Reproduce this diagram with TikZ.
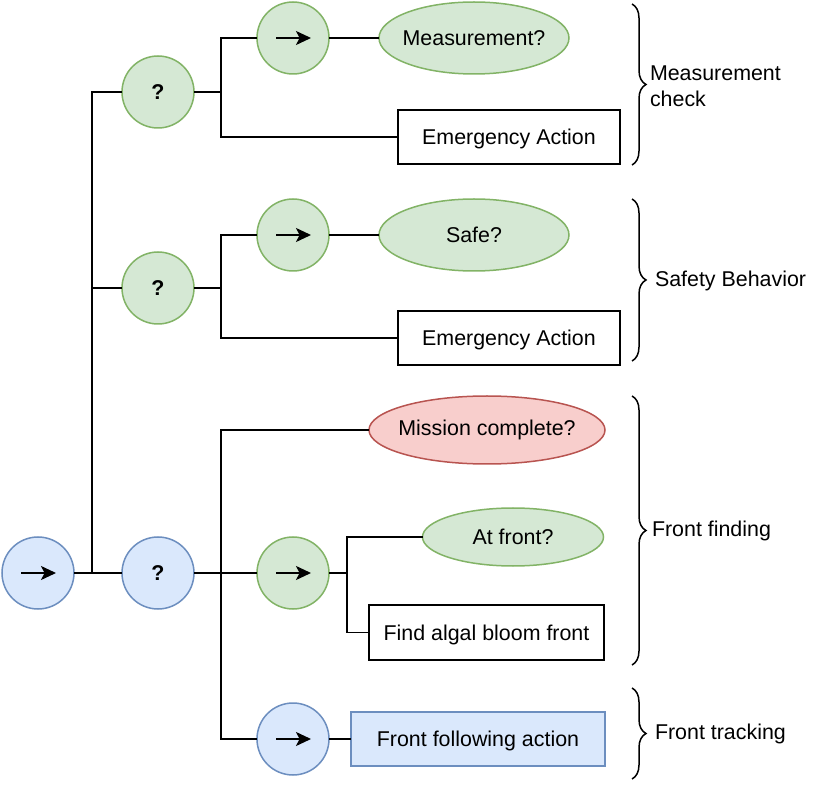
\documentclass[tikz,border=0pt]{standalone}
\usepackage{fontspec}
\setmainfont{Liberation Sans}
\usetikzlibrary{shapes.geometric,arrows.meta,decorations.pathreplacing}
\definecolor{gfill}{HTML}{D5E8D4}\definecolor{gdraw}{HTML}{82B366}
\definecolor{bfill}{HTML}{DAE8FC}\definecolor{bdraw}{HTML}{6C8EBF}
\definecolor{rfill}{HTML}{F8CECC}\definecolor{rdraw}{HTML}{B85450}
\begin{document}
\begin{tikzpicture}[x=0.5pt,y=-0.5pt,
  font=\fontsize{10.7}{13}\selectfont,
  every node/.style={inner sep=0pt,outer sep=0pt},
  circ/.style={circle,minimum size=36pt,line width=0.75pt},
  gcirc/.style={circ,fill=gfill,draw=gdraw},
  bcirc/.style={circ,fill=bfill,draw=bdraw},
  gell/.style={ellipse,fill=gfill,draw=gdraw,line width=0.75pt},
  rell/.style={ellipse,fill=rfill,draw=rdraw,line width=0.75pt},
  actbox/.style={rectangle,draw=black,line width=0.75pt,fill=white,text height=9.9pt,text depth=2.3pt},
  bactbox/.style={rectangle,draw=bdraw,fill=bfill,line width=0.75pt,text height=9.9pt,text depth=2.3pt},
  conn/.style={draw=black,line width=0.9pt},
  seqarrow/.style={-{Stealth[length=7.5pt,width=7pt,inset=1.8pt]},line width=0.9pt},
  bracedeco/.style={decorate,decoration={brace,amplitude=7pt},line width=0.75pt},
  lbl/.style={anchor=west,align=left}
]
\useasboundingbox (0,0) rectangle (831,786);

% nodes
\node[bcirc] (root) at (38,573) {};
\node[gcirc,font=\fontsize{10.7}{13}\selectfont\bfseries] (fb1) at (158,92) {?};
\node[gcirc,font=\fontsize{10.7}{13}\selectfont\bfseries] (fb2) at (158,288) {?};
\node[bcirc,font=\fontsize{10.7}{13}\selectfont\bfseries] (fb3) at (158,573) {?};

\node[gcirc] (seq1) at (293,38) {};
\node[gell,inner xsep=-2.2pt,minimum width=95pt,minimum height=36pt] (c1) at (474,38) {Measurement?};
\node[actbox,minimum width=111pt,minimum height=27pt] (em1) at (509,137) {Emergency Action};

\node[gcirc] (seq2) at (293,235) {};
\node[gell,minimum width=95pt,minimum height=36pt] (c2) at (474,235) {Safe?};
\node[actbox,minimum width=111pt,minimum height=27pt] (em2) at (509,338) {Emergency Action};

\node[rell,inner xsep=-2.7pt,minimum width=118pt,minimum height=34pt] (mc) at (487,430) {Mission complete?};
\node[gcirc] (seq3) at (293,573) {};
\node[gell,minimum width=90.5pt,minimum height=29pt] (af) at (513,537) {At front?};
\node[actbox,minimum width=117.5pt,minimum height=27.5pt] (find) at (486.5,632.5) {Find algal bloom front};

\node[bcirc] (seq4) at (293,739) {};
\node[bactbox,minimum width=127pt,minimum height=27pt] (ffa) at (478,739) {Front following action};

% arrows inside sequence circles
\foreach \n in {root,seq1,seq2,seq3,seq4}{
  \draw[seqarrow] ([xshift=-8.5pt]\n.center) -- ([xshift=9pt]\n.center);
}

% junction coordinates
\coordinate (j0) at (92,573);
\coordinate (j1) at (221,92);
\coordinate (j2) at (221,288);
\coordinate (j3) at (221,573);
\coordinate (j4) at (347,573);

% connectors
\draw[conn] (root.east) -- (fb3.west);
\draw[conn] (fb1.west) -| (j0);
\draw[conn] (fb2.west) -| (j0);

\draw[conn] (fb1.east) -- (j1);
\draw[conn] (j1) |- (seq1.west);
\draw[conn] (j1) |- (em1.west);
\draw[conn] (seq1.east) -- (c1.west);

\draw[conn] (fb2.east) -- (j2);
\draw[conn] (j2) |- (seq2.west);
\draw[conn] (j2) |- (em2.west);
\draw[conn] (seq2.east) -- (c2.west);

\draw[conn] (fb3.east) -- (seq3.west);
\draw[conn] (j3) |- (mc.west);
\draw[conn] (j3) |- (seq4.west);
\draw[conn] (seq3.east) -- (j4);
\draw[conn] (j4) |- (af.west);
\draw[conn] (j4) |- (find.west);
\draw[conn] (seq4.east) -- (ffa.west);

% braces
\coordinate (b1t) at (632,4);   \coordinate (b1b) at (632,165);
\coordinate (b2t) at (632,199); \coordinate (b2b) at (632,361);
\coordinate (b3t) at (632,396); \coordinate (b3b) at (632,665);
\coordinate (b4t) at (632,688); \coordinate (b4b) at (632,779);
\draw[bracedeco] (b1t) -- (b1b);
\draw[bracedeco] (b2t) -- (b2b);
\draw[bracedeco] (b3t) -- (b3b);
\draw[bracedeco] (b4t) -- (b4b);

\node[lbl] (l1) at (650,86) {Measurement\\check};
\node[lbl] (l2) at (655,281) {Safety Behavior};
\node[lbl] (l3) at (652,531) {Front finding};
\node[lbl] (l4) at (655,734) {Front tracking};
\end{tikzpicture}
\end{document}
